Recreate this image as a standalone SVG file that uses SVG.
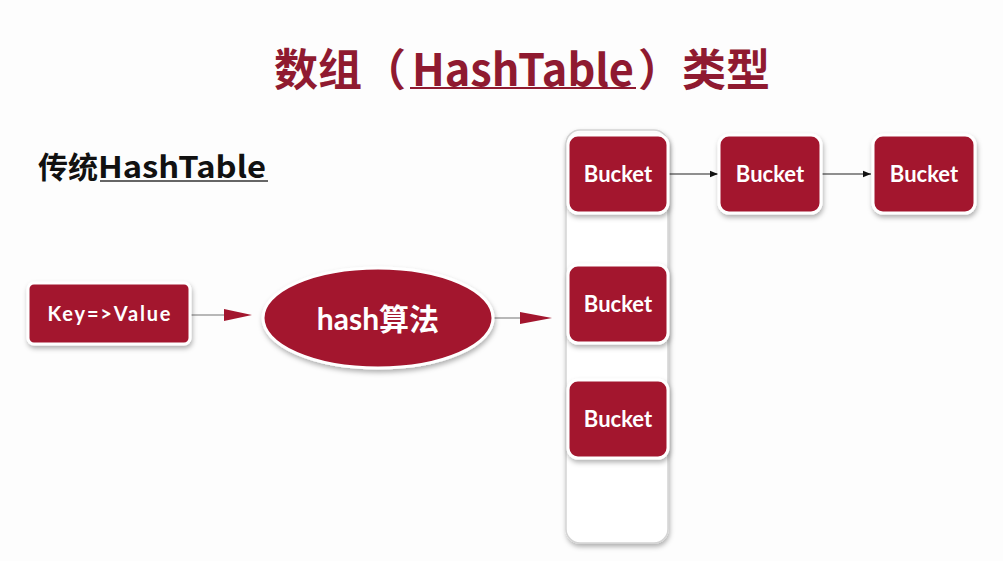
<svg xmlns="http://www.w3.org/2000/svg" width="1003" height="561" viewBox="0 0 1003 561">
<defs>
<filter id="sh" x="-20%" y="-20%" width="140%" height="150%">
<feDropShadow dx="1" dy="3" stdDeviation="2.5" flood-color="#000" flood-opacity="0.3"/>
</filter>
<marker id="tri" viewBox="0 0 10 10" refX="10" refY="5" markerWidth="8" markerHeight="8" markerUnits="userSpaceOnUse" orient="auto">
<path d="M0,1 L10,5 L0,9 Z" fill="#111"/>
</marker>
</defs>
<style>
.box{fill:#a3162e;stroke:#fff;stroke-width:3;filter:url(#sh)}
.lbl{fill:#fff;font-family:Lato,"Open Sans","Noto Sans CJK SC",sans-serif;font-weight:bold;text-anchor:middle;dominant-baseline:central}
.bk{font-size:22px}
.big{fill:#a3162e}
.thin{stroke:#222;stroke-width:1.2;fill:none}
.gray{stroke:#b8b8b8;stroke-width:2;fill:none}
.ttl{font-family:"Noto Sans CJK SC","Open Sans",sans-serif;font-weight:bold}
</style>
<rect width="1003" height="561" fill="#fdfdfd"/>
<g id="title" class="ttl" fill="#8f1a30" font-size="44">
<text x="274" y="86">数组（<tspan dx="6" textLength="222" lengthAdjust="spacingAndGlyphs">HashTable</tspan><tspan dx="4">）类型</tspan></text>
<line x1="410" y1="88" x2="636" y2="88" stroke="#8f1a30" stroke-width="2"/>
</g>
<g id="subtitle" class="ttl" fill="#111" font-size="30">
<text x="38" y="178">传统<tspan textLength="168" lengthAdjust="spacingAndGlyphs">HashTable</tspan></text>
<line x1="100" y1="181" x2="268" y2="181" stroke="#333" stroke-width="1.5"/>
</g>
<g id="column">
<rect x="566" y="130" width="102" height="413" rx="14" fill="#fff" stroke="#d4d4d4" stroke-width="1.5" filter="url(#sh)"/>
</g>
<g id="connectors">
<line class="gray" x1="190" y1="315" x2="224" y2="315"/>
<path class="big" d="M224,309 L252,315 L224,321 Z"/>
<line class="gray" x1="493" y1="318" x2="520" y2="318"/>
<path class="big" d="M520,312 L552,318 L520,324 Z"/>
<line class="thin" x1="668" y1="174" x2="718" y2="174" marker-end="url(#tri)"/>
<line class="thin" x1="821" y1="174" x2="871" y2="174" marker-end="url(#tri)"/>
</g>
<g id="keyvalue">
<rect class="box" x="28" y="283" width="162" height="61" rx="6"/>
<text class="lbl" x="109" y="313" font-size="20" textLength="123" lengthAdjust="spacing">Key=&gt;Value</text>
</g>
<g id="hash">
<ellipse class="box" cx="378" cy="318" rx="115" ry="50"/>
<text class="lbl" x="378" y="318" font-size="30" font-family="Lato,'Noto Sans CJK SC',sans-serif">hash算法</text>
</g>
<g id="bucket1">
<rect class="box" x="568" y="135" width="100" height="78" rx="10"/>
<text class="lbl bk" x="618" y="173">Bucket</text>
</g>
<g id="bucket2">
<rect class="box" x="568" y="265" width="100" height="78" rx="10"/>
<text class="lbl bk" x="618" y="303">Bucket</text>
</g>
<g id="bucket3">
<rect class="box" x="568" y="380" width="100" height="78" rx="10"/>
<text class="lbl bk" x="618" y="418">Bucket</text>
</g>
<g id="bucket4">
<rect class="box" x="719" y="135" width="102" height="78" rx="10"/>
<text class="lbl bk" x="770" y="173">Bucket</text>
</g>
<g id="bucket5">
<rect class="box" x="873" y="135" width="102" height="78" rx="10"/>
<text class="lbl bk" x="924" y="173">Bucket</text>
</g>
</svg>
